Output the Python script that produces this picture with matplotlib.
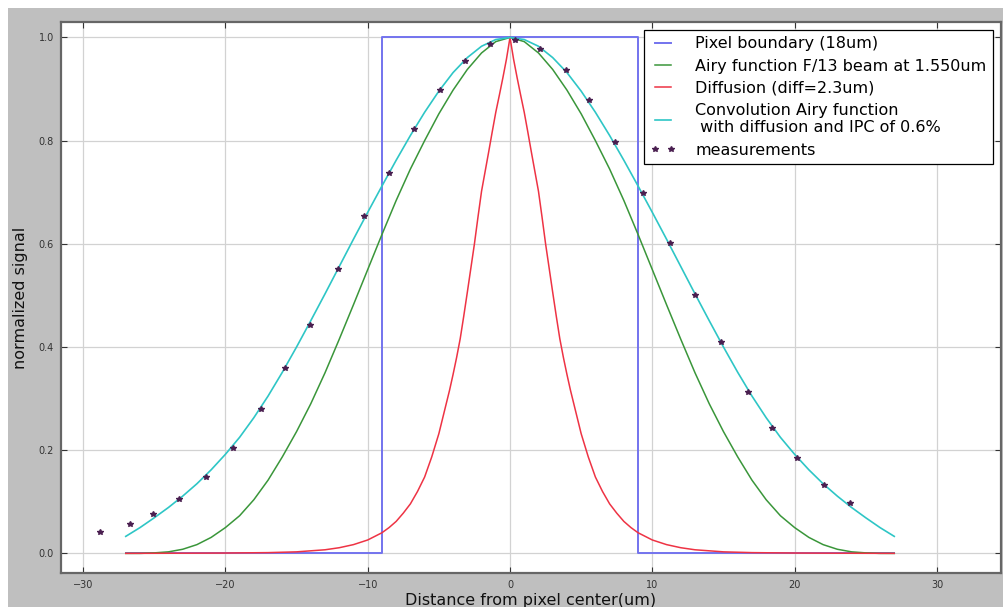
import numpy as np
import matplotlib
matplotlib.use("Agg")
import matplotlib.pyplot as plt
from matplotlib.patches import Rectangle

# ---- data ----
pix_x = [-27, -9, -9, 9, 9, 27]
pix_y = [0, 0, 1, 1, 0, 0]

grid_x = list(range(-27, 28))
airy_y = [0.000, 0.000, 0.001, 0.003, 0.008, 0.017, 0.031, 0.050, 0.073, 0.104,
          0.142, 0.187, 0.236, 0.290, 0.350, 0.415, 0.482, 0.550, 0.618, 0.684,
          0.745, 0.800, 0.852, 0.898, 0.938, 0.970, 0.992, 1.000,
          0.992, 0.970, 0.938, 0.898, 0.852, 0.800, 0.745, 0.684, 0.618, 0.550,
          0.482, 0.415, 0.350, 0.290, 0.236, 0.187, 0.142, 0.104, 0.073, 0.050,
          0.031, 0.017, 0.008, 0.003, 0.001, 0.000, 0.000]
conv_y = [0.033, 0.050, 0.069, 0.089, 0.111, 0.135, 0.162, 0.192, 0.225, 0.263,
          0.305, 0.351, 0.400, 0.451, 0.503, 0.556, 0.609, 0.661, 0.712, 0.762,
          0.810, 0.855, 0.896, 0.932, 0.961, 0.983, 0.996, 1.000,
          0.996, 0.983, 0.961, 0.932, 0.896, 0.855, 0.810, 0.762, 0.712, 0.661,
          0.609, 0.556, 0.503, 0.451, 0.400, 0.351, 0.305, 0.263, 0.225, 0.192,
          0.162, 0.135, 0.111, 0.089, 0.069, 0.050, 0.033]

diff_x = [-27, -24, -20, -17, -15, -14, -13, -12, -11, -10, -9, -8.5, -8, -7.5, -7,
          -6.5, -6, -5.5, -5, -4.5, -4.25, -4, -3.75, -3.5, -3.25, -3, -2.75, -2.5,
          -2.25, -2, -1.75, -1.5, -1.25, -1, -0.75, -0.5, -0.25, 0,
          0.25, 0.5, 0.75, 1, 1.25, 1.5, 1.75, 2, 2.25, 2.5, 2.75, 3, 3.25, 3.5,
          3.75, 4, 4.25, 4.5, 5, 5.5, 6, 6.5, 7, 7.5, 8, 8.5, 9,
          10, 11, 12, 13, 14, 15, 17, 20, 24, 27]
diff_y = [0.0001, 0.0003, 0.0007, 0.0015, 0.003, 0.005, 0.007, 0.011, 0.017, 0.026,
          0.040, 0.050, 0.062, 0.078, 0.096, 0.120, 0.148, 0.187, 0.232, 0.288,
          0.316, 0.347, 0.380, 0.416, 0.460, 0.506, 0.553, 0.600, 0.652, 0.702,
          0.740, 0.778, 0.817, 0.855, 0.888, 0.922, 0.958, 1.000,
          0.958, 0.922, 0.888, 0.855, 0.817, 0.778, 0.740, 0.702, 0.652, 0.600,
          0.553, 0.506, 0.460, 0.416, 0.380, 0.347, 0.316, 0.288, 0.232, 0.187,
          0.148, 0.120, 0.096, 0.078, 0.062, 0.050, 0.040,
          0.026, 0.017, 0.011, 0.007, 0.005, 0.003, 0.0015, 0.0007, 0.0003, 0.0001]

meas_x = [-28.8, -26.7, -25.07, -23.28, -21.36, -19.49, -17.5, -15.79, -14.03, -12.09,
          -10.26, -8.48, -6.77, -4.9, -3.16, -1.43, 0.37, 2.09, 3.94, 5.58,
          7.36, 9.32, 11.24, 13.0, 14.8, 16.7, 18.44, 20.2, 22.07, 23.9]
meas_y = [0.041, 0.057, 0.076, 0.106, 0.149, 0.205, 0.280, 0.359, 0.443, 0.551,
          0.654, 0.738, 0.823, 0.898, 0.954, 0.987, 0.996, 0.977, 0.936, 0.878,
          0.797, 0.699, 0.601, 0.500, 0.409, 0.312, 0.243, 0.185, 0.133, 0.097]

labels = ["Pixel boundary (18um)",
          "Airy function F/13 beam at 1.550um",
          "Diffusion (diff=2.3um)",
          "Convolution Airy function\n with diffusion and IPC of 0.6%",
          "measurements"]
x_ticks = [-30, -20, -10, 0, 10, 20, 30]
y_ticks = [0.0, 0.2, 0.4, 0.6, 0.8, 1.0]

# ---- figure ----
W, H = 1004, 607
fig = plt.figure(figsize=(W / 100, H / 100), dpi=100)
fig.patch.set_facecolor("white")
fig.add_artist(Rectangle((8 / W, 0), 1, (H - 8) / H, transform=fig.transFigure,
                         facecolor="#bfbfbf", edgecolor="none", zorder=-10))

ax = fig.add_axes([61 / W, 1 - 573 / H, (1001 - 61) / W, (573 - 22) / H])
ax.set_facecolor("white")

ax.plot(pix_x, pix_y, color="#7373ee", lw=1.4, label=labels[0])
ax.plot(grid_x, airy_y, color="#3a963a", lw=1.1, label=labels[1])
ax.plot(diff_x, diff_y, color="#ee3344", lw=1.1, label=labels[2])
ax.plot(grid_x, conv_y, color="#2ec6c6", lw=1.2, label=labels[3])
ax.plot(meas_x, meas_y, ls="none", marker="*", ms=4.2, color="#4a1f50",
        mec="#4a1f50", label=labels[4])

ax.set_xlim(-31.55, 34.5)
ax.set_ylim(-0.038, 1.03)
ax.set_xticks(x_ticks)
ax.set_yticks(y_ticks)
ax.set_yticklabels([f"{v:.1f}" for v in y_ticks])
ax.grid(True, color="#d2d2d2", lw=0.9)
ax.set_axisbelow(True)
ax.tick_params(direction="in", top=True, right=True, length=4, width=0.8,
               labelsize=7, colors="#333333", pad=5)
for s in ax.spines.values():
    s.set_color("#666666")
    s.set_linewidth(1.6)

ax.set_xlabel("Distance from pixel center(um)", fontsize=11.5, labelpad=2, color="#111111")
ax.set_ylabel("normalized signal", fontsize=11.5, labelpad=8, color="#111111")

leg = ax.legend(loc="upper right", fontsize=11.5, numpoints=2, handlelength=1.6,
                handletextpad=1.2, labelspacing=0.45, borderpad=0.4,
                borderaxespad=0.0, fancybox=False, framealpha=1, edgecolor="black",
                bbox_to_anchor=(0.9915, 0.9855))
leg.get_frame().set_linewidth(0.9)

fig.savefig("out.png", dpi=100, facecolor=fig.get_facecolor())
